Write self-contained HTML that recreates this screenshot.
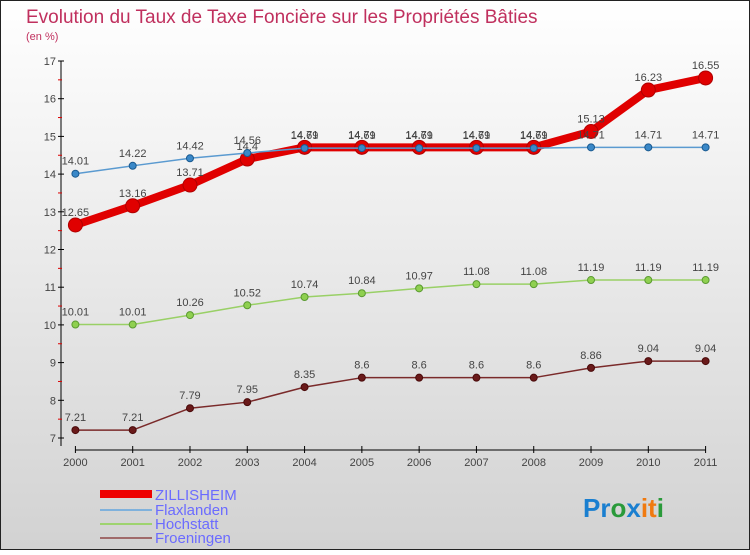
<!DOCTYPE html>
<html><head><meta charset="utf-8"><style>
body{margin:0;}
svg text{font-family:"Liberation Sans",sans-serif;}
</style></head><body>
<svg width="750" height="550" xmlns="http://www.w3.org/2000/svg">
<defs><linearGradient id="bg" x1="0" y1="0" x2="0" y2="1"><stop offset="0" stop-color="#ffffff"/><stop offset="1" stop-color="#d2d2d2"/></linearGradient></defs>
<rect x="0.5" y="0.5" width="749" height="549" fill="url(#bg)" stroke="#222"/>
<text x="26" y="23" font-size="19" fill="#c0305e">Evolution du Taux de Taxe Foncière sur les Propriétés Bâties</text>
<text x="26" y="40" font-size="11" fill="#c0305e">(en %)</text>
<g id="axes"></g><g id="series"></g>
<g>
<rect x="100" y="490" width="52" height="8" fill="#e00"/>
<text x="155" y="500" font-size="15" fill="#6b6bff">ZILLISHEIM</text>
<line x1="100" y1="510" x2="152" y2="510" stroke="#7fb1dc" stroke-width="2"/>
<text x="155" y="515" font-size="15" fill="#6b6bff">Flaxlanden</text>
<line x1="100" y1="524" x2="152" y2="524" stroke="#9ed36f" stroke-width="2"/>
<text x="155" y="529" font-size="15" fill="#6b6bff">Hochstatt</text>
<line x1="100" y1="538" x2="152" y2="538" stroke="#a06a6a" stroke-width="2"/>
<text x="155" y="543" font-size="15" fill="#6b6bff">Froeningen</text>
</g>
<text x="583" y="517" font-size="26" font-weight="bold"><tspan fill="#1a7fd0">Pr</tspan><tspan fill="#2a9a3a">o</tspan><tspan fill="#1a7fd0">x</tspan><tspan fill="#f07a10">it</tspan><tspan fill="#2a9a3a">i</tspan></text>
</svg>
<script>
const years=[2000,2001,2002,2003,2004,2005,2006,2007,2008,2009,2010,2011];
const yTicks=[7,8,9,10,11,12,13,14,15,16,17];
const zillisheim=[12.65,13.16,13.71,14.4,14.71,14.71,14.71,14.71,14.71,15.13,16.23,16.55];
const flaxlanden=[14.01,14.22,14.42,14.56,14.69,14.69,14.69,14.69,14.69,14.71,14.71,14.71];
const hochstatt=[10.01,10.01,10.26,10.52,10.74,10.84,10.97,11.08,11.08,11.19,11.19,11.19];
const froeningen=[7.21,7.21,7.79,7.95,8.35,8.6,8.6,8.6,8.6,8.86,9.04,9.04];
const NS="http://www.w3.org/2000/svg";
const X=i=>75.4+i*(705.6-75.4)/(years.length-1);
const Y=v=>61+(17-v)*37.7;
function mk(tag,attrs,parent){const e=document.createElementNS(NS,tag);for(const k in attrs)e.setAttribute(k,attrs[k]);parent.appendChild(e);return e;}
const ax=document.getElementById('axes');
let l=mk('line',{x1:61,y1:Y(17),x2:61,y2:Y(7)+8,stroke:'#000'},ax);


yTicks.forEach(v=>{mk('line',{x1:58,y1:Y(v),x2:64,y2:Y(v),stroke:'#000'},ax);
if(v<17)mk('line',{x1:58,y1:Y(v+0.5),x2:62,y2:Y(v+0.5),stroke:'#d00'},ax);
const t=mk('text',{x:56,y:Y(v)+4,'font-size':11,fill:'#444','text-anchor':'end'},ax);t.textContent=v;

});
l=mk('line',{x1:75.4,y1:450,x2:705.6,y2:450,stroke:'#000'},ax);


years.forEach((y,i)=>{mk('line',{x1:X(i),y1:446,x2:X(i),y2:453,stroke:'#000'},ax);
const t=mk('text',{x:X(i),y:466,'font-size':11,fill:'#444','text-anchor':'middle'},ax);t.textContent=y;

});
const sg=document.getElementById('series');
function draw(vals,name,color,w,r,dot,dotStroke){
const g=mk('g',{},sg);


mk('polyline',{points:vals.map((v,i)=>X(i)+','+Y(v)).join(' '),fill:'none',stroke:color,'stroke-width':w,'stroke-linejoin':'round'},g);
vals.forEach((v,i)=>{const c=mk('circle',{cx:X(i),cy:Y(v),r:r,fill:dot,stroke:dotStroke,'stroke-width':1},g);


const t=mk('text',{x:X(i),y:Y(v)-9,'font-size':11,fill:'#444','text-anchor':'middle'},g);t.textContent=v;

});}
draw(froeningen,'froeningen','#7a2a2a',1.5,3.5,'#6a1a1a','#4a0a0a');
draw(hochstatt,'hochstatt','#99d066',1.5,3.5,'#8fd050','#5a9a30');
draw(zillisheim,'zillisheim','#e00000',8,7,'#e00000','#b00000');
draw(flaxlanden,'flaxlanden','#5a9ad0',1.5,3.5,'#3a88c8','#1a5a90');
</script>
</body></html>
